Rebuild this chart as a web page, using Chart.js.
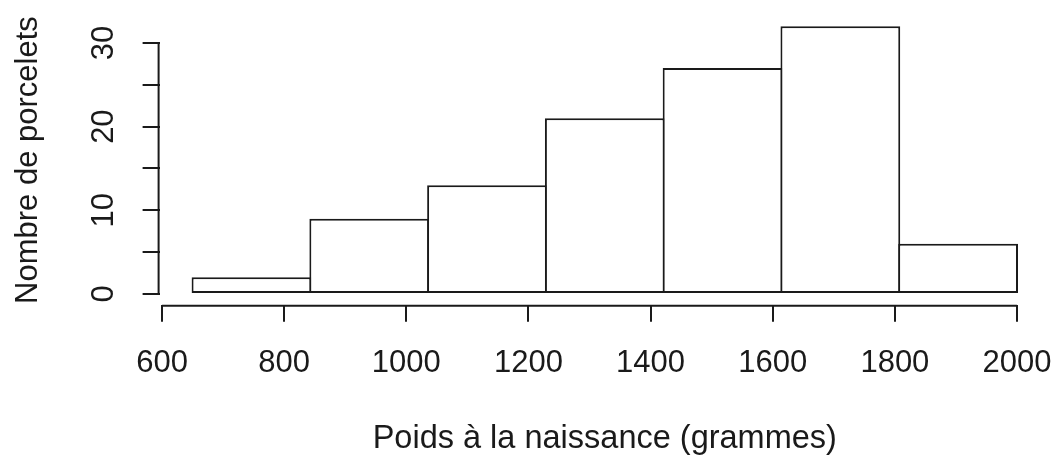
<!DOCTYPE html>
<html>
<head>
<meta charset="utf-8">
<script src="https://cdn.jsdelivr.net/npm/chart.js@4/dist/chart.umd.min.js"></script>
<style>
  html, body { margin: 0; padding: 0; background: #fff; }
  #wrap { width: 1056px; height: 459px; position: relative; }
</style>
</head>
<body>
<div id="wrap"><canvas id="hist"></canvas></div>
<script>
// histogram of piglet birth weights (R style hist)

// bin breaks and counts
const binEdges = [650, 842.9, 1035.7, 1228.6, 1421.4, 1614.3, 1807.1, 2000];
const counts = [2, 9, 13, 21, 27, 32, 6];

const xTicks = [600, 800, 1000, 1200, 1400, 1600, 1800, 2000];
const yTicks = [0, 5, 10, 15, 20, 25, 30];
const yTickLabels = ['0', '', '10', '', '20', '', '30'];

const xTitle = 'Poids à la naissance (grammes)';
const yTitle = 'Nombre de porcelets';

const ink = '#1a1a1a';
const font = { family: "'Liberation Sans', Arial, sans-serif", size: 31 };

// bar centres from the breaks
const points = counts.map((c, i) => ({ x: (binEdges[i] + binEdges[i + 1]) / 2, y: c }));

// R draws the axis lines only between the first and last tick
const axisLines = {
  id: 'axisLines',
  afterDraw(chart) {
    const { ctx, scales: { x, y } } = chart;
    ctx.save();
    ctx.strokeStyle = ink;
    ctx.lineWidth = 2;
    ctx.beginPath();
    const ay = x.top + 1;
    ctx.moveTo(x.getPixelForValue(xTicks[0]), ay);
    ctx.lineTo(x.getPixelForValue(xTicks[xTicks.length - 1]), ay);
    const ax = y.right - 1;
    ctx.moveTo(ax, y.getPixelForValue(yTicks[0]));
    ctx.lineTo(ax, y.getPixelForValue(yTicks[yTicks.length - 1]));
    ctx.stroke();
    ctx.restore();
  }
};

// keep the tick label padding from pushing the plot area around
const noEdgePadding = s => { s.paddingTop = 0; s.paddingBottom = 0; s.paddingLeft = 0; s.paddingRight = 0; };

new Chart(document.getElementById('hist').getContext('2d'), {
  type: 'bar',
  data: {
    datasets: [{
      data: points,
      backgroundColor: '#ffffff',
      borderColor: ink,
      borderWidth: 2,
      borderSkipped: false,
      // a hair over 1 so neighbouring borders overlap into one line, like R's rect()
      barPercentage: 1.017,
      categoryPercentage: 1
    }]
  },
  options: {
    responsive: true,
    maintainAspectRatio: false,
    animation: false,
    layout: { padding: { top: 15.5, right: 6, left: 0, bottom: 0 } },
    plugins: { legend: { display: false }, tooltip: { enabled: false } },
    scales: {
      x: {
        type: 'linear',
        min: 596,
        max: 2054,
        offset: false,
        afterBuildTicks: s => { s.ticks = xTicks.map(v => ({ value: v })); },
        afterFit: s => { s.height = 154.3; noEdgePadding(s); },
        grid: { offset: false, drawOnChartArea: false, drawTicks: true, tickLength: 17, color: ink, lineWidth: 2 },
        border: { display: false },
        ticks: { color: ink, font, padding: 23, maxRotation: 0, autoSkip: false, callback: v => String(v) },
        title: { display: true, text: xTitle, color: ink, font: { ...font, size: 32.5 }, padding: { top: 0, bottom: 0 } }
      },
      y: {
        min: -1.28,
        max: 33.28,
        afterBuildTicks: s => { s.ticks = yTicks.map(v => ({ value: v })); },
        afterFit: s => { s.width = 159.6; noEdgePadding(s); },
        grid: { drawOnChartArea: false, drawTicks: true, tickLength: 17, color: ink, lineWidth: 2 },
        border: { display: false },
        ticks: {
          color: ink, font, padding: 21, minRotation: 90, maxRotation: 90, crossAlign: 'center', autoSkip: false,
          callback: v => yTickLabels[yTicks.indexOf(v)] ?? ''
        },
        title: { display: true, text: yTitle, color: ink, font, padding: { top: 10, bottom: 0 } }
      }
    }
  },
  plugins: [axisLines]
});
</script>
</body>
</html>
